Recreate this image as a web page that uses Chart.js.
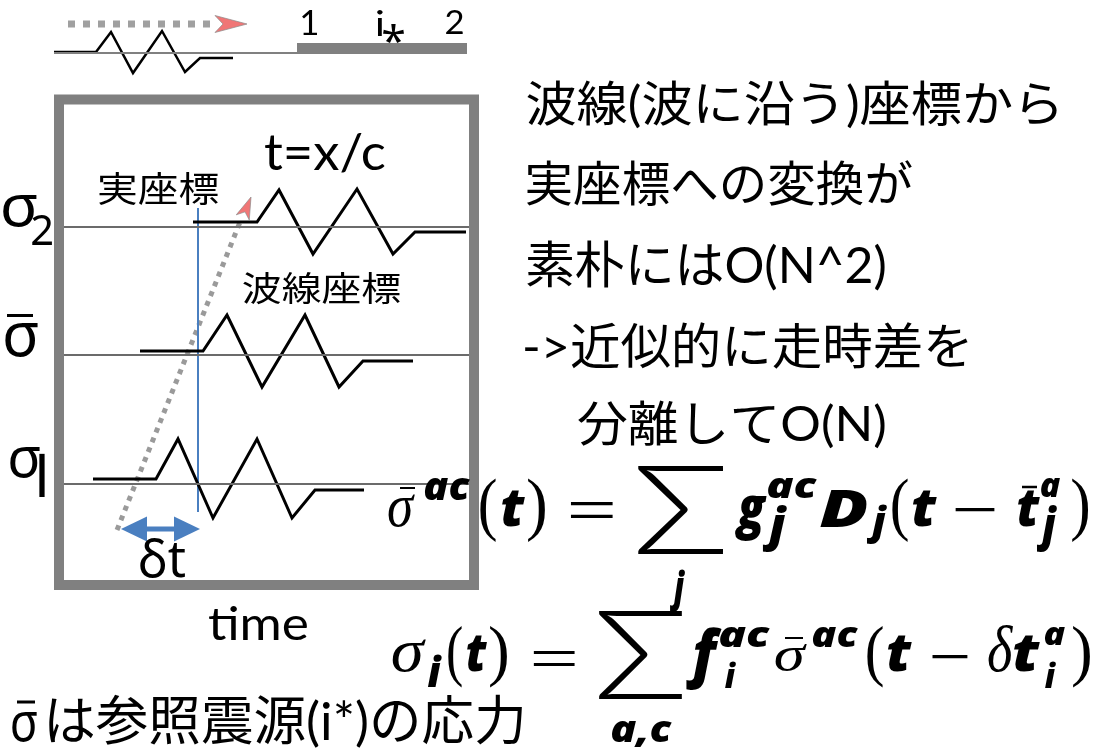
<!DOCTYPE html>
<html lang="ja">
<head>
<meta charset="utf-8">
<title>波線座標と実座標</title>
<script src="https://cdn.jsdelivr.net/npm/chart.js@4.4.1/dist/chart.umd.min.js"></script>
<style>
  html, body { margin: 0; padding: 0; background: #fff; }
  #wrap { width: 1096px; height: 750px; }
</style>
</head>
<body>
<div id="wrap"><canvas id="waveChart"></canvas></div>
<script>
// diagram units: x to the right, y downwards, 1096 x 750
const sourceLine = [[54, 53], [467, 53]];
const sourceBar = [[297, 48], [467, 48]];
const sourceWave = [[54, 52], [96, 52], [111, 32], [133, 73], [162, 31], [185, 72], [200, 58], [233, 58]];
const rayTop = [[68, 24], [212, 24]];
const frame = [[266, 99.5], [474, 99.5], [474, 585], [59, 585], [59, 99.5], [266, 99.5]];
const levelY = [227, 355, 484];          // sigma2, sigma-bar, sigma1
const levelSpan = [63, 469];
const wave2 = [[193, 222], [257, 222], [279, 190], [313, 254], [357, 189], [393, 254], [415, 232], [466, 232]];
const waveRef = [[140, 351], [203, 351], [227, 315], [262, 387], [305, 315], [339, 387], [363, 361], [413, 361]];
const wave1 = [[93, 479], [156, 479], [178, 439], [213, 518], [257, 439], [292, 518], [315, 490], [364, 490]];
const realTime = [[198, 208], [198, 512]];
const rayPath = [[117, 530], [240, 222]];
const dtShaft = [[140, 529], [180, 529]];

const sourceLabels = ["1", "i", "*", "2"];
const levelLabels = ["σ", "2", "σ", "σ", "l"];
const noteLines = ["波線(波に沿う)座標から", "実座標への変換が", "素朴にはO(N^2)", "->近似的に走時差を", "分離してO(N)"];
const footNote = ["σ", "は参照震源(i*)の応力"];

const F = {
    cjk: "100px 'Noto Sans CJK JP'",
    mix: "100px Lato, 'Noto Sans CJK JP'",
    greek: "100px 'Noto Sans', 'DejaVu Sans'",
    lat: "100px Lato, 'Noto Sans'",
    mb: "italic 800 100px 'Open Sans', 'DejaVu Sans'",
    mi: "italic 100px 'Liberation Serif', 'DejaVu Serif'",
    mr: "100px 'Liberation Serif', 'DejaVu Serif'",
    sum: "300 100px Lato, 'Noto Sans'",
};

function line(points, color, width, dash) {
    return {
        data: points.map(([x, y]) => ({ x, y })),
        showLine: true,
        borderColor: color,
        borderWidth: width,
        borderDash: dash || [],
        borderJoinStyle: "miter",
        borderCapStyle: "butt",
        pointRadius: 0,
        tension: 0,
        clip: false,
    };
}

const overlay = {
    id: "overlay",
    afterDatasetsDraw(chart) {
        const ctx = chart.ctx;
        const xs = chart.scales.x, ys = chart.scales.y;
        const P = (a, b) => [xs.getPixelForValue(a), ys.getPixelForValue(b)];

        // text squeezed into its ink box
        function fit(text, font, box) {
            const [l, t] = P(box[0], box[1]);
            const [r, b] = P(box[2], box[3]);
            ctx.save();
            ctx.font = font;
            ctx.textAlign = "left";
            ctx.textBaseline = "alphabetic";
            ctx.fillStyle = "#000";
            const m = ctx.measureText(text);
            const w = m.actualBoundingBoxLeft + m.actualBoundingBoxRight;
            const h = m.actualBoundingBoxAscent + m.actualBoundingBoxDescent;
            ctx.translate(l, t);
            ctx.scale((r - l) / w, (b - t) / h);
            ctx.fillText(text, m.actualBoundingBoxLeft, m.actualBoundingBoxAscent);
            ctx.restore();
        }

        // overbar (mean) mark
        function bar(x0, x1, yy, w) {
            const [a, b] = P(x0, yy);
            const [c] = P(x1, yy);
            ctx.save();
            ctx.strokeStyle = "#000";
            ctx.lineWidth = w;
            ctx.beginPath();
            ctx.moveTo(a, b);
            ctx.lineTo(c, b);
            ctx.stroke();
            ctx.restore();
        }

        function head(tip, from, len, half, notch, fill, edge) {
            const [tx, ty] = P(tip[0], tip[1]);
            const [fx, fy] = P(from[0], from[1]);
            let dx = tx - fx, dy = ty - fy;
            const d = Math.hypot(dx, dy);
            dx /= d; dy /= d;
            const nx = -dy, ny = dx;
            const bx = tx - dx * len, by = ty - dy * len;
            ctx.save();
            ctx.beginPath();
            ctx.moveTo(tx, ty);
            ctx.lineTo(bx + nx * half, by + ny * half);
            ctx.lineTo(tx - dx * (len - notch), ty - dy * (len - notch));
            ctx.lineTo(bx - nx * half, by - ny * half);
            ctx.closePath();
            ctx.fillStyle = fill;
            ctx.fill();
            if (edge) {
                ctx.strokeStyle = edge;
                ctx.lineWidth = 1;
                ctx.stroke();
            }
            ctx.restore();
        }

        head([247, 24], rayTop[0], 32, 8.5, 8, "#f07676", "rgba(140,140,140,0.7)");
        head([251, 197], rayPath[0], 22, 7, 6, "#f07676", "rgba(140,140,140,0.7)");
        head([121, 529], [200, 529], 26, 12.5, 0, "#4a7fc0");
        head([200, 529], [121, 529], 26, 12.5, 0, "#4a7fc0");

        // source labels
        fit(sourceLabels[0], F.lat, [302, 10, 317, 35]);
        fit(sourceLabels[1], F.lat, [377, 10, 383, 36]);
        fit(sourceLabels[2], F.greek, [383, 24, 404, 43]);
        fit(sourceLabels[3], F.lat, [446, 10, 463, 34]);

        // level labels
        fit(levelLabels[0], F.greek, [3, 195, 37, 227]);
        fit(levelLabels[1], F.greek, [32, 215, 52, 245]);
        fit(levelLabels[2], F.greek, [5, 323, 38, 357]);
        bar(7, 33, 315.5, 3);
        fit(levelLabels[3], F.greek, [10, 447, 40, 478]);
        fit(levelLabels[4], F.greek, [39, 453, 45, 497]);

        fit("t=x/c", F.lat, [265, 133, 385, 172]);
        fit("実座標", F.cjk, [99, 172, 218, 205]);
        fit("波線座標", F.cjk, [243, 272, 400, 304]);
        fit("δt", F.greek, [140, 538, 185, 578]);
        fit("time", F.lat, [209, 605, 307, 640]);
        fit(footNote[0], F.greek, [12, 712, 37, 742]);
        bar(17, 35, 702, 3);
        fit(footNote[1], F.mix, [49, 695, 522, 748]);

        // notes on the right
        const noteBoxes = [
            [527, 80, 1057, 128],
            [527, 160, 912, 205],
            [527, 240, 885, 290],
            [525, 322, 968, 368],
            [578, 400, 885, 448],
        ];
        noteLines.forEach((s, i) => fit(s, F.mix, noteBoxes[i]));

        // first equation
        fit("σ", F.mi, [388, 495, 415, 527]);
        bar(400, 415, 488, 2);
        fit("ac", F.mb, [425, 478, 470, 500]);
        fit("(", F.mr, [480, 478, 496, 542]);
        fit("t", F.mb, [502, 492, 525, 527]);
        fit(")", F.mr, [528, 478, 545, 542]);
        fit("=", F.mr, [570, 502, 613, 518]);
        fit("Σ", F.sum, [637, 465, 723, 555]);
        fit("j", F.mb, [670, 570, 685, 612]);
        fit("g", F.mb, [735, 495, 767, 540]);
        fit("ac", F.mb, [768, 478, 817, 498]);
        fit("j", F.mb, [763, 505, 787, 552]);
        fit("D", F.mb, [820, 490, 867, 527]);
        fit("j", F.mb, [867, 505, 887, 545]);
        fit("(", F.mr, [892, 478, 908, 542]);
        fit("t", F.mb, [913, 492, 937, 527]);
        fit("\u2212", F.mr, [955, 508, 995, 512]);
        fit("t", F.mb, [1018, 492, 1040, 527]);
        bar(1022, 1037, 487, 2.5);
        fit("a", F.mb, [1041, 478, 1060, 497]);
        fit("j", F.mb, [1037, 505, 1057, 552]);
        fit(")", F.mr, [1072, 478, 1088, 542]);

        // second equation
        fit("σ", F.mi, [392, 640, 426, 672]);
        fit("i", F.mb, [428, 655, 442, 687]);
        fit("(", F.mr, [448, 625, 462, 688]);
        fit("t", F.mb, [467, 637, 487, 672]);
        fit(")", F.mr, [490, 625, 507, 688]);
        fit("=", F.mr, [533, 650, 575, 665]);
        fit("Σ", F.sum, [598, 610, 682, 700]);
        fit("a,c", F.mb, [612, 722, 672, 747]);
        fit("f", F.mb, [686, 628, 722, 690]);
        fit("ac", F.mb, [720, 627, 770, 647]);
        fit("i", F.mb, [725, 662, 736, 688]);
        fit("σ", F.mi, [775, 645, 807, 672]);
        bar(785, 803, 638, 2);
        fit("ac", F.mb, [813, 627, 858, 647]);
        fit("(", F.mr, [867, 625, 883, 688]);
        fit("t", F.mb, [888, 637, 912, 672]);
        fit("\u2212", F.mr, [932, 655, 968, 659]);
        fit("δ", F.mi, [988, 625, 1013, 672]);
        fit("t", F.mb, [1014, 637, 1040, 672]);
        fit("a", F.mb, [1045, 627, 1065, 645]);
        fit("i", F.mb, [1045, 662, 1056, 688]);
        fit(")", F.mr, [1073, 625, 1090, 688]);
    },
};

const datasets = [
    line(sourceLine, "#808080", 2),
    line(sourceBar, "#808080", 10),
    line(sourceWave, "#000000", 2.5),
    line(rayTop, "#a0a0a0", 7, [7, 8]),
    line(frame, "#808080", 10),
    ...levelY.map((y) => line([[levelSpan[0], y], [levelSpan[1], y]], "#6b6b6b", 2)),
    line(wave2, "#000000", 3),
    line(waveRef, "#000000", 3),
    line(wave1, "#000000", 3),
    line(realTime, "#4a7fc0", 2),
    line(rayPath, "#9a9a9a", 5, [5, 5.5]),
    line(dtShaft, "#4a7fc0", 5),
];

new Chart(document.getElementById("waveChart"), {
    type: "scatter",
    data: { datasets: datasets },
    options: {
        animation: false,
        responsive: true,
        maintainAspectRatio: false,
        events: [],
        layout: { padding: 0 },
        plugins: { legend: { display: false }, tooltip: { enabled: false } },
        scales: {
            x: { type: "linear", min: 0, max: 1096, display: false },
            y: { type: "linear", min: 0, max: 750, reverse: true, display: false },
        },
    },
    plugins: [overlay],
});
</script>
</body>
</html>
